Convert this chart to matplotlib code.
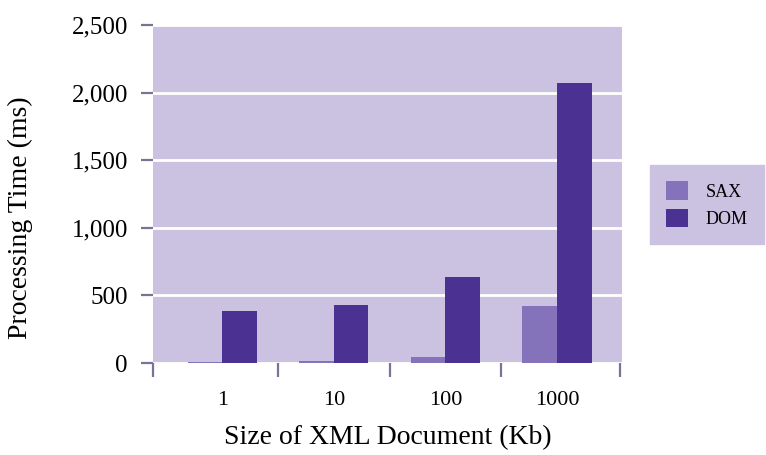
import matplotlib.pyplot as plt
import numpy as np
from matplotlib.ticker import FuncFormatter, FixedLocator

# ----------------------------
# Data
# ----------------------------
sizes = ["1", "10", "100", "1000"]
sax_ms = [8, 17, 46, 420]
dom_ms = [385, 428, 635, 2068]

BG = "#CBC2E2"
SAX_COLOR = "#8472BA"
DOM_COLOR = "#4B3192"
TICK_COLOR = "#7C7296"

plt.rcParams.update({
    "font.family": ["Liberation Serif", "DejaVu Serif"],
    "font.size": 15,
})

fig = plt.figure(figsize=(7.66, 4.55), dpi=100)
ax = fig.add_axes([0.1997, 0.202, 0.612, 0.743])

x = np.arange(len(sizes))
w = 0.31
ax.bar(x - w / 2, sax_ms, width=w, color=SAX_COLOR, label="SAX", zorder=3)
ax.bar(x + w / 2, dom_ms, width=w, color=DOM_COLOR, label="DOM", zorder=3)

ax.set_facecolor(BG)
for s in ax.spines.values():
    s.set_visible(False)

ax.set_ylim(0, 2500)
ax.set_xlim(-0.62, 3.58)
ax.set_yticks([0, 500, 1000, 1500, 2000, 2500])
ax.yaxis.set_major_formatter(FuncFormatter(lambda v, p: f"{int(v):,}"))
ax.grid(axis="y", color="white", linewidth=2, zorder=1)
ax.tick_params(axis="y", length=9, width=1.6, color=TICK_COLOR, pad=9, labelsize=18)

ax.set_xticks(x)
ax.set_xticklabels(sizes)
ax.tick_params(axis="x", which="major", length=0, pad=20, labelsize=16)
ax.xaxis.set_minor_locator(FixedLocator([-0.62, 0.5, 1.5, 2.5, 3.56]))
ax.tick_params(axis="x", which="minor", length=10, width=1.6, color=TICK_COLOR, pad=0)

ax.set_ylabel("Processing Time (ms)", fontsize=20)
ax.yaxis.set_label_coords(-0.256, 0.43)
ax.set_xlabel("Size of XML Document (Kb)", fontsize=20, labelpad=11)

leg = fig.legend(loc="upper left", bbox_to_anchor=(650 / 766, 1 - 165 / 455),
                 frameon=True, fancybox=False, fontsize=13,
                 handlelength=1.2, handleheight=1.2, borderpad=0.9,
                 labelspacing=0.45, handletextpad=1.0, borderaxespad=0)
leg.get_frame().set_facecolor(BG)
leg.get_frame().set_edgecolor(BG)
leg.get_frame().set_alpha(1)

fig.savefig("out.png", dpi=100)
